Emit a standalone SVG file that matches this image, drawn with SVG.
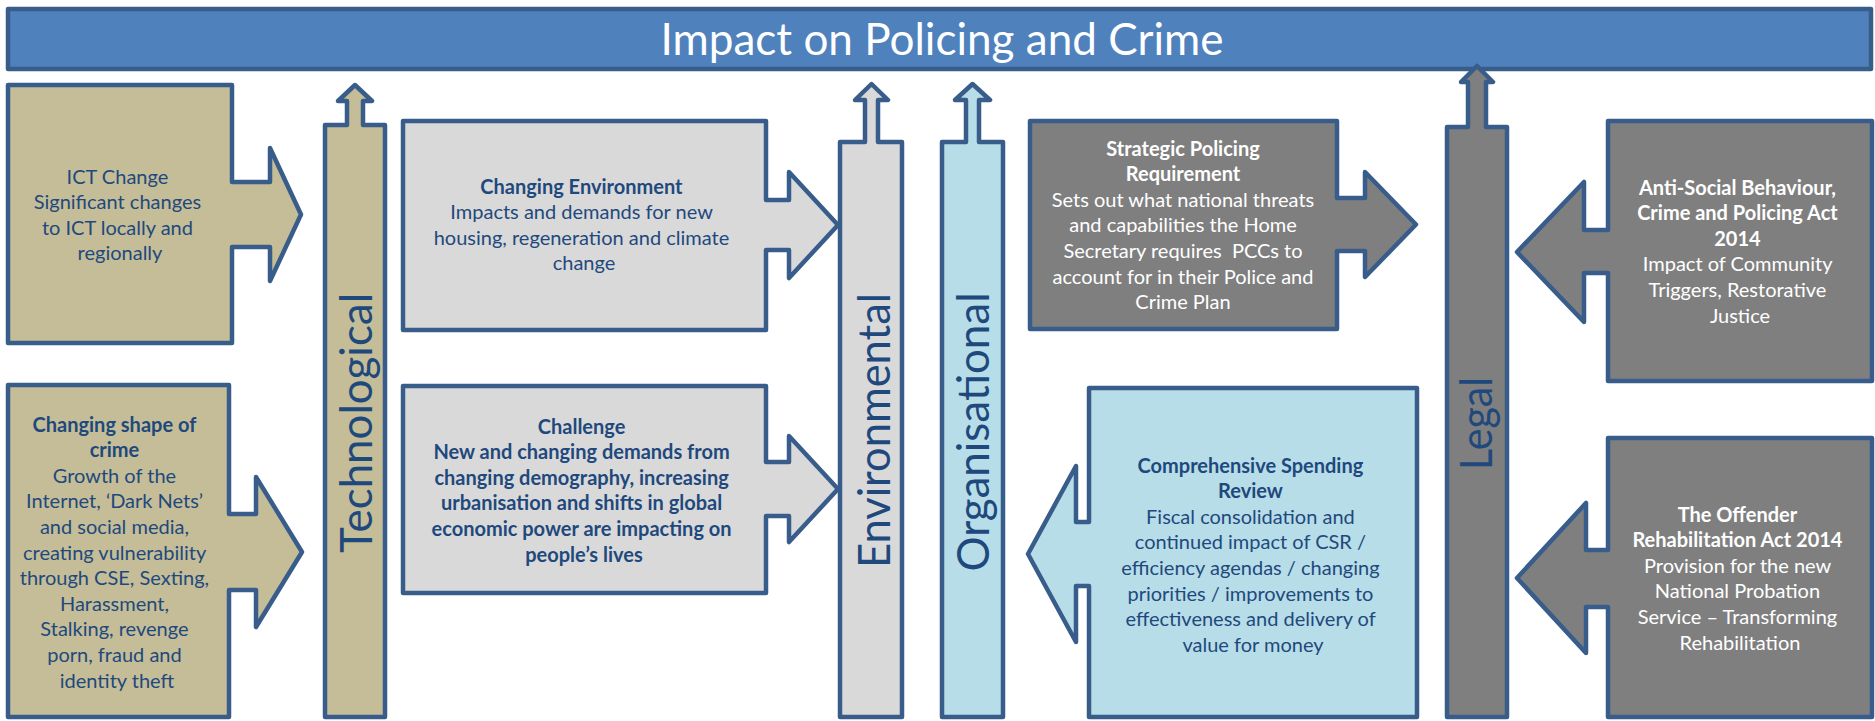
<svg xmlns="http://www.w3.org/2000/svg" width="1875" height="721" viewBox="0 0 1875 721">
  <style>
    .shape { stroke: #385D8A; stroke-width: 4.5; stroke-linejoin: round; }
    .tan { fill: #C4BD97; }
    .lgray { fill: #D9D9D9; }
    .dgray { fill: #7F7F7F; }
    .lblue { fill: #B7DDE8; }
    .bar { fill: #4F81BD; }
    .txt { font-family: Lato, "Liberation Sans", sans-serif; font-size: 20px; text-anchor: middle; fill: #1F497D; }
    .white { fill: #FFFFFF; }
    .b { font-weight: bold; }
    .col { font-family: Lato, "Liberation Sans", sans-serif; font-size: 44px; text-anchor: middle; fill: #1F497D; }
    .title { font-family: Lato, "Liberation Sans", sans-serif; font-size: 45px; text-anchor: middle; fill: #FFFFFF; }
  </style>

  <!-- heading bar -->
  <g id="title">
    <rect class="shape bar" x="8" y="9" width="1863" height="60"/>
    <text class="title" x="942" y="55" textLength="563" lengthAdjust="spacingAndGlyphs">Impact on Policing and Crime</text>
  </g>

  <!-- vertical category columns, each ending in a small up arrow -->
  <g id="technological">
    <path class="shape tan" d="M325,717 V125 H347 V101 H338 L355,85 L372,101 H363 V125 H385 V717 Z"/>
    <text class="col" transform="translate(372,423) rotate(-90)" textLength="260" lengthAdjust="spacingAndGlyphs">Technological</text>
  </g>
  <g id="environmental">
    <path class="shape lgray" d="M840,717 V142 H865 V100 H855 L871.5,84 L888,100 H878 V142 H902 V717 Z"/>
    <text class="col" transform="translate(890,430.5) rotate(-90)" textLength="275" lengthAdjust="spacingAndGlyphs">Environmental</text>
  </g>
  <g id="organisational">
    <path class="shape lblue" d="M942,717 V142 H966 V100 H955 L972.5,84 L990,100 H979 V142 H1003 V717 Z"/>
    <text class="col" transform="translate(989,432) rotate(-90)" textLength="279" lengthAdjust="spacingAndGlyphs">Organisational</text>
  </g>
  <g id="legal">
    <path class="shape dgray" d="M1447,717 V127 H1468 V82 H1461 L1477,66 L1493,82 H1486 V127 H1507 V717 Z"/>
    <text class="col white" transform="translate(1492,423.5) rotate(-90)" textLength="93" lengthAdjust="spacingAndGlyphs">Legal</text>
  </g>

  <!-- technological drivers -->
  <g id="ict-change">
    <path class="shape tan" d="M8,85 H232 V182 H270 V148 L301,214.5 L270,281 V247 H232 V343 H8 Z"/>
    <text class="txt" y="183.5">
      <tspan x="120">ICT Change</tspan>
      <tspan x="120" dy="25.6">Significant changes</tspan>
      <tspan x="120" dy="25.6">to ICT locally and</tspan>
      <tspan x="120" dy="25.6">regionally</tspan>
    </text>
  </g>
  <g id="changing-shape-of-crime">
    <path class="shape tan" d="M8,385 H229 V514 H256 V477 L302,552 L256,627 V590 H229 V717 H8 Z"/>
    <text class="txt" y="431.5">
      <tspan class="b" x="117">Changing shape of</tspan>
      <tspan class="b" x="117" dy="25.6">crime</tspan>
      <tspan x="117" dy="25.6">Growth of the</tspan>
      <tspan x="117" dy="25.6">Internet, ‘Dark Nets’</tspan>
      <tspan x="117" dy="25.6">and social media,</tspan>
      <tspan x="117" dy="25.6">creating vulnerability</tspan>
      <tspan x="117" dy="25.6">through CSE, Sexting,</tspan>
      <tspan x="117" dy="25.6">Harassment,</tspan>
      <tspan x="117" dy="25.6">Stalking, revenge</tspan>
      <tspan x="117" dy="25.6">porn, fraud and</tspan>
      <tspan x="117" dy="25.6">identity theft</tspan>
    </text>
  </g>

  <!-- environmental drivers -->
  <g id="changing-environment">
    <path class="shape lgray" d="M403,121 H766 V200 H789 V172 L838,225 L789,278 V250 H766 V330 H403 Z"/>
    <text class="txt" y="193.5">
      <tspan class="b" x="584">Changing Environment</tspan>
      <tspan x="584" dy="25.6">Impacts and demands for new</tspan>
      <tspan x="584" dy="25.6">housing, regeneration and climate</tspan>
      <tspan x="584" dy="25.6">change</tspan>
    </text>
  </g>
  <g id="challenge">
    <path class="shape lgray" d="M403,386 H766 V462 H789 V436 L838,489 L789,542 V516 H766 V593 H403 Z"/>
    <text class="txt b" y="433.5">
      <tspan x="584">Challenge</tspan>
      <tspan x="584" dy="25.6">New and changing demands from</tspan>
      <tspan x="584" dy="25.6">changing demography, increasing</tspan>
      <tspan x="584" dy="25.6">urbanisation and shifts in global</tspan>
      <tspan x="584" dy="25.6">economic power are impacting on</tspan>
      <tspan x="584" dy="25.6">people’s lives</tspan>
    </text>
  </g>

  <!-- organisational drivers -->
  <g id="strategic-policing-requirement">
    <path class="shape dgray" d="M1030,121 H1337 V198 H1365 V172 L1416,224.5 L1365,277 V251 H1337 V329 H1030 Z"/>
    <text class="txt white" y="155.5" xml:space="preserve"><tspan class="b" x="1183">Strategic Policing</tspan><tspan class="b" x="1183" dy="25.6">Requirement</tspan><tspan x="1183" dy="25.6">Sets out what national threats</tspan><tspan x="1183" dy="25.6">and capabilities the Home</tspan><tspan x="1183" dy="25.6">Secretary requires  PCCs to</tspan><tspan x="1183" dy="25.6">account for in their Police and</tspan><tspan x="1183" dy="25.6">Crime Plan</tspan></text>
  </g>
  <g id="comprehensive-spending-review">
    <path class="shape lblue" d="M1089,388 H1417 V717 H1089 V586 H1076 V642 L1028,554 L1076,466 V522 H1089 Z"/>
    <text class="txt" y="472.5">
      <tspan class="b" x="1253">Comprehensive Spending</tspan>
      <tspan class="b" x="1253" dy="25.6">Review</tspan>
      <tspan x="1253" dy="25.6">Fiscal consolidation and</tspan>
      <tspan x="1253" dy="25.6">continued impact of CSR /</tspan>
      <tspan x="1253" dy="25.6">efficiency agendas / changing</tspan>
      <tspan x="1253" dy="25.6">priorities / improvements to</tspan>
      <tspan x="1253" dy="25.6">effectiveness and delivery of</tspan>
      <tspan x="1253" dy="25.6">value for money</tspan>
    </text>
  </g>

  <!-- legal drivers -->
  <g id="anti-social-behaviour-act">
    <path class="shape dgray" d="M1608,121 H1872 V381 H1608 V273 H1584 V322 L1517,252 L1584,182 V230 H1608 Z"/>
    <text class="txt white" y="194.5">
      <tspan class="b" x="1740">Anti-Social Behaviour,</tspan>
      <tspan class="b" x="1740" dy="25.6">Crime and Policing Act</tspan>
      <tspan class="b" x="1740" dy="25.6">2014</tspan>
      <tspan x="1740" dy="25.6">Impact of Community</tspan>
      <tspan x="1740" dy="25.6">Triggers, Restorative</tspan>
      <tspan x="1740" dy="25.6">Justice</tspan>
    </text>
  </g>
  <g id="offender-rehabilitation-act">
    <path class="shape dgray" d="M1608,438 H1872 V717 H1608 V607 H1586 V653 L1517,578 L1586,503 V550 H1608 Z"/>
    <text class="txt white" y="521.5">
      <tspan class="b" x="1740">The Offender</tspan>
      <tspan class="b" x="1740" dy="25.6">Rehabilitation Act 2014</tspan>
      <tspan x="1740" dy="25.6">Provision for the new</tspan>
      <tspan x="1740" dy="25.6">National Probation</tspan>
      <tspan x="1740" dy="25.6">Service – Transforming</tspan>
      <tspan x="1740" dy="25.6">Rehabilitation</tspan>
    </text>
  </g>

  <!-- connectors: the arrows are built into the node outlines above -->
  <g id="connectors"/>
</svg>
